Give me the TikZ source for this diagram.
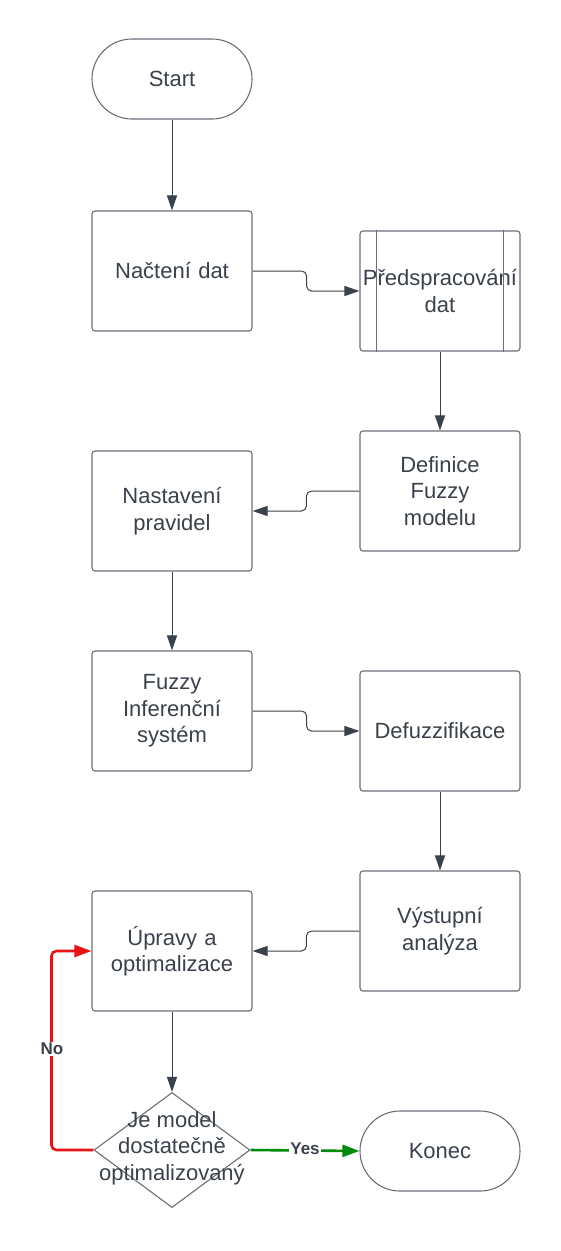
\documentclass[tikz,border=0pt]{standalone}
\usepackage{fontspec}
\setmainfont{Liberation Sans}
\usetikzlibrary{arrows.meta,shapes.geometric}
\definecolor{ink}{HTML}{3A414A}
\definecolor{edge}{HTML}{6A6F78}
\definecolor{nored}{HTML}{E81313}
\definecolor{yesgreen}{HTML}{008A0E}
\tikzset{
  box/.style={draw=edge,line width=1.1pt,rounded corners=3pt,minimum width=160pt,
    minimum height=120pt,text width=158pt,align=center,text=ink,inner sep=0pt,
    font=\fontsize{22}{26.5}\selectfont},
  term/.style={box,rounded corners=40pt,minimum height=80pt},
  dia/.style={draw=edge,line width=1.1pt,diamond,minimum width=156pt,minimum height=115pt,inner sep=0pt},
  conn/.style={draw=ink,line width=1pt,rounded corners=5pt,-{Triangle[length=15pt,width=10pt]}},
  flag/.style={line width=2.6pt,rounded corners=5pt,-{Triangle[length=17pt,width=12pt]}},
  lab/.style={fill=white,text=ink,inner sep=1pt,font=\fontsize{17}{19}\selectfont\bfseries}
}
\begin{document}
\begin{tikzpicture}[x=1pt,y=-1pt]
  \useasboundingbox (0,0) rectangle (560,1251);
  % nodes
  \node[term] (start) at (172,79) {Start};
  \node[box] (nacteni) at (172,271) {Načtení dat};
  \node[box] (pred) at (440,291) {Předspracování\\dat};
  \draw[draw=edge,line width=1.1pt] ([xshift=17pt]pred.north west) -- ([xshift=17pt]pred.south west);
  \draw[draw=edge,line width=1.1pt] ([xshift=-17pt]pred.north east) -- ([xshift=-17pt]pred.south east);
  \node[box] (defin) at (440,491) {Definice\\Fuzzy\\modelu};
  \node[box] (nast) at (172,511) {Nastavení\\pravidel};
  \node[box] (infer) at (172,711) {Fuzzy\\Inferenční\\systém};
  \node[box] (defuz) at (440,731) {Defuzzifikace};
  \node[box] (vystup) at (440,931) {Výstupní\\analýza};
  \node[box] (upravy) at (172,951) {Úpravy a\\optimalizace};
  \node[dia] (dec) at (172,1150) {};
  \node[text=ink,align=center,font=\fontsize{22}{26.5}\selectfont] (dectext) at (172,1148) {Je model\\dostatečně\\optimalizovaný};
  \node[term] (konec) at (440,1151) {Konec};
  % connectors
  \draw[conn] (start) -- (nacteni);
  \draw[conn] (nacteni.east) -- ++(54,0) |- (pred.west);
  \draw[conn] (pred) -- (defin);
  \draw[conn] (defin.west) -- ++(-53,0) |- (nast.east);
  \draw[conn] (nast) -- (infer);
  \draw[conn] (infer.east) -- ++(54,0) |- (defuz.west);
  \draw[conn] (defuz) -- (vystup);
  \draw[conn] (vystup.west) -- ++(-53,0) |- (upravy.east);
  \draw[conn] (upravy) -- (dec.north);
  \draw[flag,draw=yesgreen] (dec.east) -- (konec.west);
  \draw[flag,draw=nored] (dec.west) -- ++(-42,0) |- (upravy.west);
  \node[lab] (yes) at (305,1149) {Yes};
  \node[lab] (no) at (52,1049) {No};
\end{tikzpicture}
\end{document}
